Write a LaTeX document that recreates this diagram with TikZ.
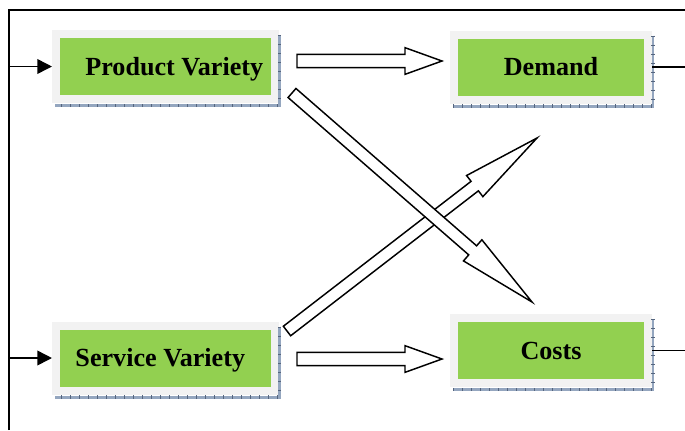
\documentclass[tikz,border=0pt]{standalone}
\usepackage{fontspec}
\setmainfont{Liberation Serif}
\usetikzlibrary{calc,arrows.meta}

\definecolor{boxgreen}{HTML}{92D050}
\definecolor{boxrim}{HTML}{F2F2F2}
\definecolor{shadowblue}{HTML}{94A6BF}
\definecolor{shadowtick}{HTML}{55657E}

\tikzset{
  factor/.style={fill=boxgreen,draw=boxrim,line width=6pt,minimum height=48.75pt,
    inner sep=0pt,text height=13pt,text depth=0pt,
    font=\fontsize{19.6}{23}\selectfont\bfseries},
  leftfactor/.style={factor,minimum width=163.9pt},
  rightfactor/.style={factor,minimum width=145.5pt},
  shadowband/.style={draw=shadowblue,line width=2.2pt},
  shadowticks/.style={draw=shadowtick,line width=2.6pt,dash pattern=on 0.5pt off 6.25pt},
  frame/.style={line width=1.2pt},
  feed/.style={line width=1.2pt,-{Triangle[length=11pt,width=11pt]}},
  loopline/.style={line width=0.9pt},
  blockarrow/.style={draw=black,fill=white,line width=1.1pt,miter limit=20},
}

% L-shaped shadow under the lower right edges of a box
\newcommand{\boxshadow}[1]{%
  \draw[shadowband] ($(#1.north east)+(0.75pt,-3.75pt)$) |- ($(#1.south west)+(2.25pt,-1.9pt)$);
  \draw[shadowticks] ($(#1.north east)+(0.75pt,-3.75pt)$) |- ($(#1.south west)+(2.25pt,-1.9pt)$);
}

% hollow block arrow: from, to, half shaft, half head, head length
\newcommand{\blockarrow}[5]{%
  \coordinate (ba-h) at ($(#2)!#5!(#1)$);
  \filldraw[blockarrow] ($(#1)!#3!90:(#2)$) -- ($(ba-h)!#3!-90:(#1)$)
    -- ($(ba-h)!#4!-90:(#1)$) -- (#2) -- ($(ba-h)!#4!90:(#1)$)
    -- ($(ba-h)!#3!90:(#1)$) -- ($(#1)!#3!-90:(#2)$) -- cycle;
}

\begin{document}
\begin{tikzpicture}[x=0.75pt,y=-0.75pt]
  \useasboundingbox (0,0) rectangle (685,430);

  % the four factors
  \node[leftfactor] (pv) at (165.25,66.5) {\hspace*{13.5pt}Product Variety};
  \node[leftfactor] (sv) at (165.25,358) {Service Variety\hspace*{7.5pt}};
  \node[rightfactor] (dm) at (551,67) {Demand};
  \node[rightfactor] (cs) at (551,350.5) {Costs};
  \boxshadow{pv}
  \boxshadow{sv}
  \boxshadow{dm}
  \boxshadow{cs}

  % outer feedback frame
  \coordinate (lb) at (9,430);
  \coordinate (tr) at (685,10);
  \draw[frame] (lb) |- (tr);
  \draw[feed] (lb |- pv) -- (pv.west);
  \draw[feed] (lb |- sv) -- (sv.west);
  \draw[loopline] (dm.east) -- (dm.east -| tr);
  \draw[loopline] (cs.east) -- (cs.east -| tr);

  % block arrows between the factors
  \coordinate (pv-out) at (297,61);
  \coordinate (dm-in) at (442,61);
  \coordinate (sv-out) at (297,359);
  \coordinate (cs-in) at (442,359);
  \coordinate (pv-cross) at (292,93);
  \coordinate (cs-cross) at (532,302);
  \coordinate (sv-cross) at (287,331);
  \coordinate (dm-cross) at (537,138);
  \blockarrow{pv-out}{dm-in}{4.9pt}{10pt}{27.75pt}
  \blockarrow{sv-out}{cs-in}{4.9pt}{10pt}{27.75pt}
  \blockarrow{sv-cross}{dm-cross}{4.5pt}{10pt}{59pt}
  \blockarrow{pv-cross}{cs-cross}{4.5pt}{10.5pt}{59pt}
\end{tikzpicture}
\end{document}
